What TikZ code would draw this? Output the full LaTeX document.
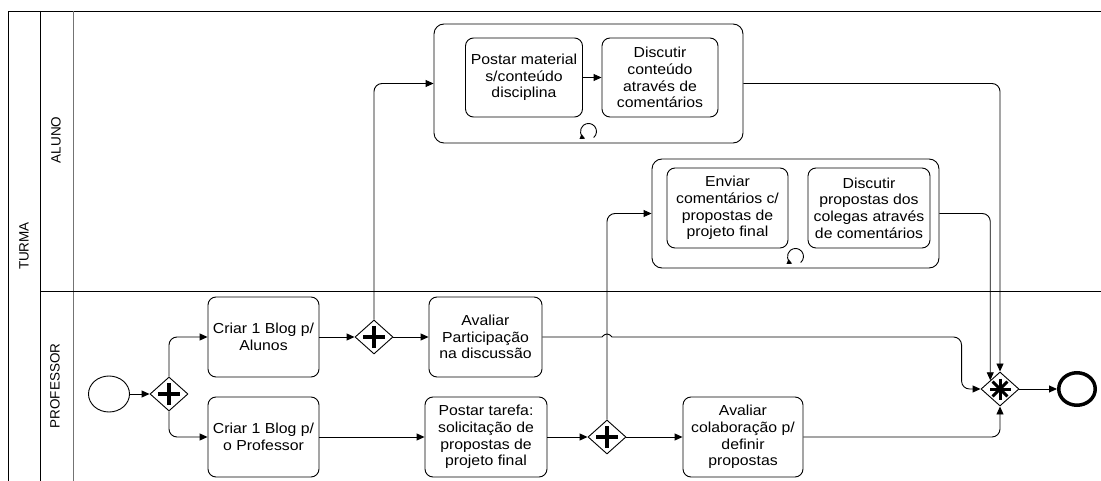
\documentclass[tikz,border=0pt]{standalone}
\usepackage{fontspec}
\setmainfont[FakeStretch=1.09]{Liberation Sans}
\newfontfamily\lanefont{Liberation Sans}
\usetikzlibrary{shapes,arrows.meta,positioning,calc}

\begin{document}
\begin{tikzpicture}[x=1pt, y=-1pt,
    font=\fontsize{14.5}{16.7}\selectfont,
    task/.style={draw, rounded corners=8pt, line width=0.9pt, align=center, inner sep=2pt, minimum height=80pt},
    sub/.style={draw, rounded corners=10pt, line width=0.9pt},
    ev/.style={draw, ellipse, line width=0.9pt, minimum width=41pt, minimum height=36pt, inner sep=0pt},
    evend/.style={ev, line width=3.5pt, minimum width=36.5pt, minimum height=32.5pt},
    gw/.style={draw, diamond, fill=white, line width=0.9pt, minimum width=38pt, minimum height=34pt, inner sep=0pt},
    gwplus/.style={gw, path picture={
        \draw[line width=3.2pt] ([xshift=-11pt]path picture bounding box.center) -- ([xshift=11pt]path picture bounding box.center)
          ([yshift=-11pt]path picture bounding box.center) -- ([yshift=11pt]path picture bounding box.center);}},
    gwstar/.style={gw, path picture={
        \foreach \a in {0,45,90,135}
          \draw[line width=3pt] ([shift={(\a:10.5pt)}]path picture bounding box.center) -- ([shift={(\a+180:10.5pt)}]path picture bounding box.center);}},
    arr/.style={-{Triangle[length=8pt,width=7pt]}, line width=0.9pt, rounded corners=8pt},
    loopmark/.style={-{Triangle[length=5pt,width=5pt]}, line width=0.9pt},
    lane/.style={rotate=90, font=\lanefont\fontsize{13.5}{15}\selectfont},
    pool/.style={line width=0.9pt}
  ]
  \useasboundingbox (0,0) rectangle (1101,481);

  % pool and lanes
  \draw[pool] (8,481) |- (1101,11);
  \draw[pool] (40,11) -- (40,481);
  \draw[pool, black!55] (73,11) -- (73,481);
  \draw[pool] (40,291) -- (1101,291);
  \node[lane] (turma) at (24,246) {TURMA};
  \node[lane] (aluno) at (56,140) {ALUNO};
  \node[lane] (professor) at (55,386) {PROFESSOR};

  % subprocesses
  \node[sub, minimum width=309pt, minimum height=119pt] (sub1) at (588.5,83.5) {};
  \node[task, minimum width=117pt, minimum height=79pt] (postMat) at (524,77.5) {Postar material\\s/conteúdo\\disciplina};
  \node[task, minimum width=116pt, minimum height=79pt] (discCont) at (660,77.5) {Discutir\\conteúdo\\através de\\comentários};
  \node[sub, minimum width=287pt, minimum height=109pt] (sub2) at (795.5,213.5) {};
  \node[task, minimum width=121pt] (enviar) at (727.5,208) {Enviar\\comentários c/\\propostas de\\projeto final};
  \node[task, minimum width=122pt] (discProp) at (869,208) {Discutir\\propostas dos\\colegas através\\de comentários};
  \draw[loopmark] ([yshift=12pt]sub1.south) ++(-50:8pt) arc[start angle=-50, end angle=245, radius=8pt];
  \draw[loopmark] ([yshift=12pt]sub2.south) ++(-50:8pt) arc[start angle=-50, end angle=245, radius=8pt];

  % professor lane
  \node[ev] (start) at (109,394) {};
  \node[gwplus] (gwSplit) at (169,394) {};
  \node[task, minimum width=111pt] (blogA) at (263.5,337) {Criar 1 Blog p/\\Alunos};
  \node[task, minimum width=111pt] (blogP) at (263.5,437) {Criar 1 Blog p/\\o Professor};
  \node[gwplus] (gwAluno) at (374,337) {};
  \node[task, minimum width=113pt] (avalPart) at (485.5,337) {Avaliar\\Participação\\na discussão};
  \node[task, minimum width=122pt] (postTar) at (486,437) {Postar tarefa:\\solicitação de\\propostas de\\projeto final};
  \node[gwplus] (gwTarefa) at (607,437) {};
  \node[task, minimum width=120pt] (avalCol) at (743,437) {Avaliar\\colaboração p/\\definir\\propostas};
  \node[gwstar] (gwFim) at (1000,389) {};
  \node[evend] (fim) at (1077,389) {};

  \coordinate (gwFimNW) at ($(gwFim.north)!0.5!(gwFim.west)$);
  \coordinate (hop) at (gwTarefa |- avalPart);
  \coordinate (pbend) at ($(gwFim.west |- avalPart)+(-19,0)$);

  \draw[arr] (start) -- (gwSplit);
  \draw[arr] (gwSplit) |- (blogA);
  \draw[arr] (gwSplit) |- (blogP);
  \draw[arr] (blogA) -- (gwAluno);
  \draw[arr] (gwAluno) -- (avalPart);
  \draw[arr] (gwAluno) |- (sub1);
  \draw[arr] (postMat) -- (discCont);
  \draw[arr] (blogP) -- (postTar);
  \draw[arr] (postTar) -- (gwTarefa);
  \draw[arr] (gwTarefa) -- (avalCol);
  \draw[arr] (gwTarefa) |- (sub2);
  \draw[arr] (sub1) -| (gwFim);
  \draw[arr] (sub2) -| (gwFimNW);
  \draw[arr] (avalPart) [sharp corners] -- ([xshift=-5pt]hop)
    .. controls ([xshift=-2pt,yshift=4pt]hop) and ([xshift=2pt,yshift=4pt]hop) .. ([xshift=5pt]hop)
    [rounded corners=8pt] -- (pbend) |- (gwFim);
  \draw[arr] (avalCol) -| (gwFim);
  \draw[arr] (gwFim) -- (fim);
\end{tikzpicture}
\end{document}
